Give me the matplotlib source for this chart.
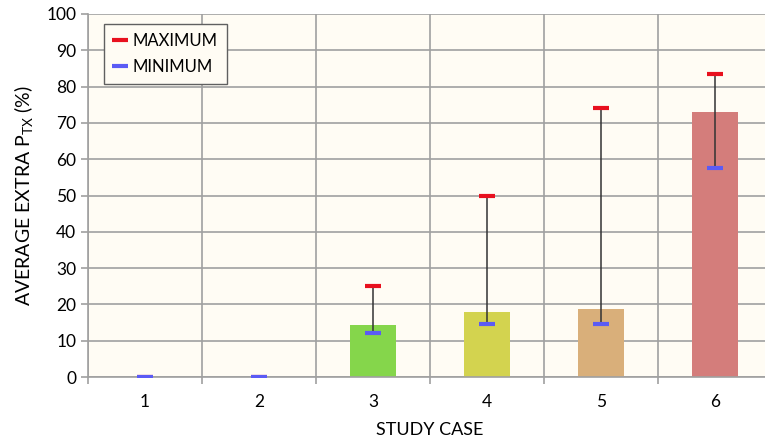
import matplotlib
matplotlib.use("Agg")
import matplotlib.pyplot as plt
from matplotlib.lines import Line2D
import numpy as np

cases = ["1", "2", "3", "4", "5", "6"]
avg = [0, 0, 14.2, 17.8, 18.7, 73.1]
max_vals = [0, 0, 25.0, 49.9, 74.1, 83.5]
min_vals = [0, 0, 12.1, 14.5, 14.5, 57.6]
colors = ["#85D64B", "#85D64B", "#85D64B", "#D3D34F", "#D9AF7A", "#D47D7B"]
yticks = [0, 10, 20, 30, 40, 50, 60, 70, 80, 90, 100]

plt.rcParams['font.family'] = ['Lato', 'DejaVu Sans']

fig = plt.figure(figsize=(7.65, 4.37), dpi=100)
ax = fig.add_axes([88/765, 1-377/437, 684/765, 363/437])
ax.set_facecolor("#FFFCF4")
fig.patch.set_facecolor("white")

x = np.arange(len(cases))
ax.bar(x, avg, width=0.4, color=colors, zorder=2)
for xi, lo, hi in zip(x, min_vals, max_vals):
    if hi > lo:
        ax.plot([xi, xi], [lo, hi], color="#333333", lw=1.1, zorder=3)
ax.plot(x, max_vals, linestyle="none", marker="_", markersize=12, markeredgewidth=3,
        color="#E8101E", zorder=4)
ax.plot(x, min_vals, linestyle="none", marker="_", markersize=12, markeredgewidth=3,
        color="#5B5BF5", zorder=5)

ax.set_xlim(-0.5, len(cases) - 0.5)
ax.set_ylim(0, 100)
ax.set_yticks(yticks)
ax.set_xticks(x)
ax.set_xticklabels(cases)
ax.set_xticks(np.arange(-0.5, len(cases), 1), minor=True)
ax.grid(axis="y", color="#A0A0A0", lw=1.2, zorder=0)
ax.grid(axis="x", which="minor", color="#A0A0A0", lw=1.2, zorder=0)
ax.tick_params(axis="x", which="major", length=0, labelsize=12.5, pad=12)
ax.tick_params(axis="x", which="minor", length=5, color="#A0A0A0", width=1.2)
ax.tick_params(axis="y", length=5, color="#A0A0A0", width=1.2, labelsize=12.5)
for s in ["top", "right"]:
    ax.spines[s].set_visible(False)
for s in ["left", "bottom"]:
    ax.spines[s].set_color("#A0A0A0")
    ax.spines[s].set_linewidth(1.2)

ax.set_xlabel("STUDY CASE", fontsize=13, labelpad=9)
ax.set_ylabel(r"AVERAGE EXTRA P$_{\mathregular{TX}}$ (%)", fontsize=14, labelpad=7)

handles = [Line2D([], [], linestyle="none", marker="_", markersize=12, markeredgewidth=3, color="#E8101E"),
           Line2D([], [], linestyle="none", marker="_", markersize=12, markeredgewidth=3, color="#5B5BF5")]
leg = ax.legend(handles, ["MAXIMUM", "MINIMUM"], loc="upper left", bbox_to_anchor=(0.023, 0.973),
                borderaxespad=0, fontsize=12, fancybox=False, framealpha=1, edgecolor="#606060",
                handlelength=0.8, handletextpad=0.4, borderpad=0.55, labelspacing=0.6)
leg.get_frame().set_linewidth(1.0)
leg.get_frame().set_facecolor("#FFFCF4")

fig.savefig("out.png", dpi=100)
